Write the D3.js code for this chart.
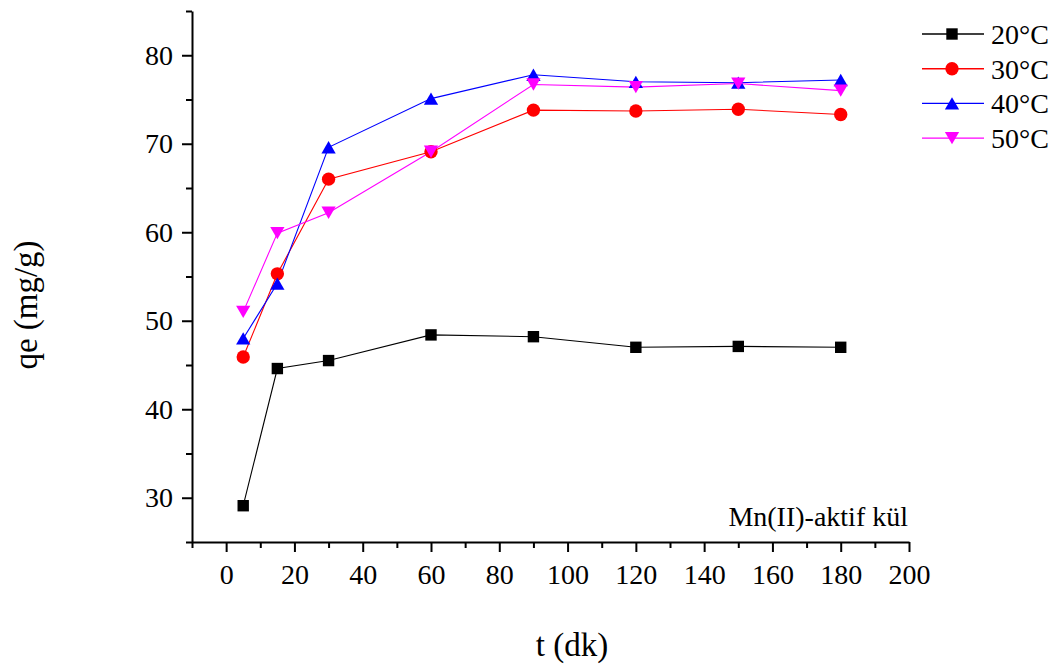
<!DOCTYPE html>
<html>
<head>
<meta charset="utf-8">
<script src="https://cdn.jsdelivr.net/npm/d3@7"></script>
<style>
  html, body { margin: 0; padding: 0; background: #fff; }
  svg { display: block; }
</style>
</head>
<body>
<svg id="chart" width="1058" height="665"></svg>
<script>
// Adsorption time (min) and uptake qe (mg/g) at four temperatures
const times = [5, 15, 30, 60, 90, 120, 150, 180];
const seriesNames = ["20°C", "30°C", "40°C", "50°C"];
const q20 = [29.1, 44.6, 45.5, 48.4, 48.2, 47.0, 47.1, 47.0];
const q30 = [45.9, 55.3, 66.0, 69.1, 73.8, 73.7, 73.9, 73.3];
const q40 = [48.0, 54.2, 69.6, 75.1, 77.8, 77.0, 76.9, 77.2];
const q50 = [51.0, 59.9, 62.2, 69.1, 76.7, 76.4, 76.8, 76.0];
const xTicks = [0, 20, 40, 60, 80, 100, 120, 140, 160, 180, 200];
const yTicks = [30, 40, 50, 60, 70, 80];

const FONT = "'Liberation Serif', 'Times New Roman', serif";

// Triangles centred on their bounding box
const triUp = {
  draw(ctx, size) {
    const s = Math.sqrt(size / (Math.sqrt(3) / 4)), h = s * Math.sqrt(3) / 2;
    ctx.moveTo(0, -h / 2); ctx.lineTo(s / 2, h / 2); ctx.lineTo(-s / 2, h / 2); ctx.closePath();
  }
};
const triDown = {
  draw(ctx, size) {
    const s = Math.sqrt(size / (Math.sqrt(3) / 4)), h = s * Math.sqrt(3) / 2;
    ctx.moveTo(0, h / 2); ctx.lineTo(s / 2, -h / 2); ctx.lineTo(-s / 2, -h / 2); ctx.closePath();
  }
};

const series = [
  { name: seriesNames[0], values: q20, color: "#000000", symbol: d3.symbolSquare, size: 130 },
  { name: seriesNames[1], values: q30, color: "#ff0000", symbol: d3.symbolCircle, size: 140 },
  { name: seriesNames[2], values: q40, color: "#0000ff", symbol: triUp, size: 88 },
  { name: seriesNames[3], values: q50, color: "#ff00ff", symbol: triDown, size: 88 }
];

const svg = d3.select("#chart");
const plotLeft = 192, plotRight = 909, plotTop = 11, plotBottom = 542;

const x = d3.scaleLinear().domain([-10, 200]).range([plotLeft, plotRight]);
const y = d3.scaleLinear().domain([25, 85]).range([plotBottom, plotTop]);

// Axes with major and minor ticks
const xMinor = d3.range(-10, 201, 10).filter(v => v % 20 !== 0);
const yMinor = d3.range(25, 86, 10);

const gx = svg.append("g").attr("transform", `translate(0,${plotBottom})`);
gx.call(d3.axisBottom(x).tickValues(xTicks).tickSize(10).tickSizeOuter(0).tickPadding(12).tickFormat(d3.format("d")));
gx.append("g").call(d3.axisBottom(x).tickValues(xMinor).tickSize(6).tickFormat(""))
  .select(".domain").remove();

const gy = svg.append("g").attr("transform", `translate(${plotLeft},0)`);
gy.call(d3.axisLeft(y).tickValues(yTicks).tickSize(10).tickSizeOuter(0).tickPadding(9).tickFormat(d3.format("d")));
gy.append("g").call(d3.axisLeft(y).tickValues(yMinor).tickSize(6).tickFormat(""))
  .select(".domain").remove();

svg.selectAll(".domain").attr("stroke", "#000").attr("stroke-width", 2);
svg.selectAll(".tick line").attr("stroke", "#000").attr("stroke-width", 2);
svg.selectAll(".tick text")
  .style("font-family", FONT).style("font-size", "28px").attr("fill", "#000");

// Lines and markers
const line = d3.line().x((d, i) => x(times[i])).y(d => y(d));
series.forEach(s => {
  svg.append("path").datum(s.values)
    .attr("d", line).attr("fill", "none")
    .attr("stroke", s.color).attr("stroke-width", 1.1);
});
series.forEach(s => {
  const sym = d3.symbol().type(s.symbol).size(s.size);
  svg.append("g").selectAll("path").data(s.values).join("path")
    .attr("d", sym)
    .attr("transform", (d, i) => `translate(${x(times[i])},${y(d)})`)
    .attr("fill", s.color);
});

// Legend
const lg = svg.append("g");
series.forEach((s, i) => {
  const ly = 34 + i * 34.7;
  lg.append("line").attr("x1", 922).attr("x2", 984).attr("y1", ly).attr("y2", ly)
    .attr("stroke", s.color).attr("stroke-width", 1.4);
  lg.append("path").attr("d", d3.symbol().type(s.symbol).size(s.size)())
    .attr("transform", `translate(952,${ly})`).attr("fill", s.color);
  lg.append("text").attr("x", 991).attr("y", ly).attr("dy", "0.35em")
    .style("font-family", FONT).style("font-size", "28px").text(s.name);
});

// Annotation and axis titles
svg.append("text").attr("x", 908).attr("y", 526).attr("text-anchor", "end")
  .style("font-family", FONT).style("font-size", "28px").text("Mn(II)-aktif kül");

svg.append("text").attr("x", 572).attr("y", 656).attr("text-anchor", "middle")
  .style("font-family", FONT).style("font-size", "33px").text("t (dk)");

svg.append("text").attr("transform", "translate(37,305) rotate(-90)")
  .attr("text-anchor", "middle")
  .style("font-family", FONT).style("font-size", "33px").text("qe (mg/g)");
</script>
</body>
</html>
